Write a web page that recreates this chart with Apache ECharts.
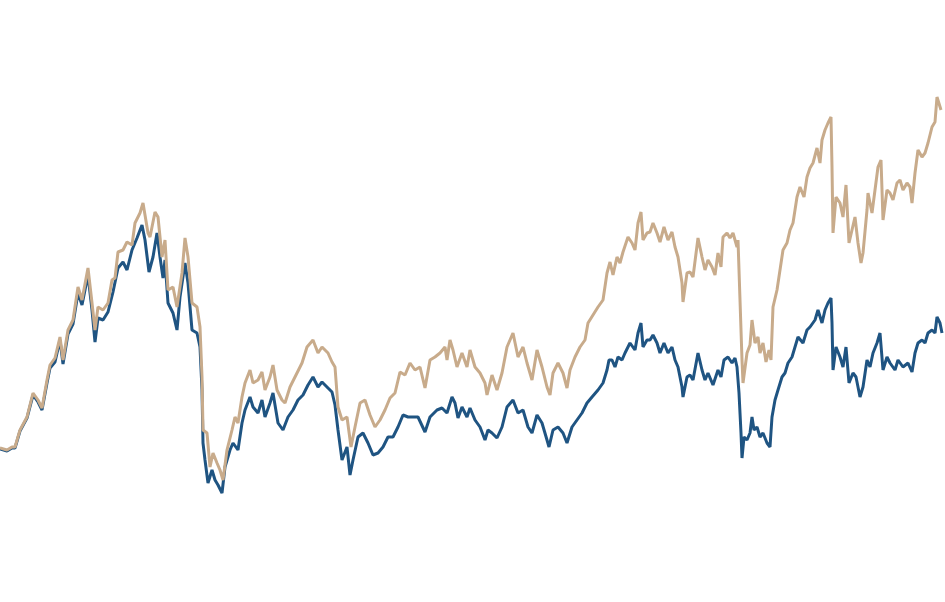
<!DOCTYPE html>
<html>
<head>
<meta charset="utf-8">
<script src="https://cdn.jsdelivr.net/npm/echarts@6/dist/echarts.min.js"></script>
<style>
html,body{margin:0;padding:0;background:#fff;}
#chart{width:945px;height:602px;}
</style>
</head>
<body>
<div id="chart"></div>
<script>
// Blue series: time index and level (level measured downward, axis inverted)
const blueT = [0,7,12,15,20,27,33,38,42,47,50,55,60,63,68,73,78,82,88,92,95,98,103,108,113,118,123,127,132,137,142,145,149,153,157,160,163,165,168,173,177,180,185,188,192,197,200,202,203,205,208,212,215,218,222,225,230,233,238,242,245,250,253,258,262,265,270,273,278,283,288,293,298,303,308,313,318,322,327,332,335,338,342,347,350,353,358,363,368,373,378,383,388,393,398,403,408,413,418,425,430,437,442,447,452,455,458,462,467,470,475,480,485,488,492,497,502,507,513,518,523,528,532,537,542,547,549,553,558,563,567,572,577,582,587,592,598,603,607,609,612,615,618,622,625,630,635,638,641,643,647,650,653,657,660,664,668,672,675,678,682,683,687,690,693,698,702,705,708,713,718,721,724,728,732,735,737,739,741,742,744,747,750,752,754,757,760,763,767,770,772,775,778,782,785,788,792,795,798,803,807,810,815,818,822,825,828,831,832,833,836,840,843,846,849,853,856,860,863,867,870,873,877,880,883,887,890,895,898,903,908,912,915,918,922,925,928,932,935,937,940,942];
const blueV = [449,451,448,448,431,418,395,402,410,383,368,362,340,364,334,324,293,305,275,310,342,318,320,312,292,268,262,270,250,238,225,240,272,257,233,257,278,260,303,313,330,297,263,283,330,333,347,390,443,460,483,470,480,485,493,467,450,443,450,423,410,397,407,413,400,417,403,393,423,430,417,410,400,395,385,377,387,382,387,392,405,430,460,447,475,460,437,433,443,455,453,447,437,437,427,415,417,417,417,432,417,410,408,413,397,403,418,407,417,408,420,427,440,430,433,438,427,407,400,413,410,427,433,415,423,440,447,430,427,433,443,427,420,413,403,397,390,383,370,360,360,367,357,360,353,343,350,333,323,347,340,340,335,343,353,343,353,347,360,367,387,397,377,375,380,353,370,380,373,385,370,377,360,357,363,358,367,393,433,458,437,440,433,417,430,427,437,433,443,447,417,400,390,377,373,363,357,347,337,343,330,327,320,310,323,310,303,298,323,370,347,357,367,347,383,373,377,397,387,360,367,353,343,333,370,357,363,370,360,367,363,372,353,343,340,343,333,330,333,317,323,333];

// Tan series
const tanT = [0,7,12,15,20,27,33,38,42,47,50,55,60,63,68,73,78,82,88,92,95,98,103,108,112,115,118,123,127,132,135,140,143,145,148,150,155,158,162,165,168,173,177,182,185,188,192,197,200,202,203,207,210,213,217,220,223,227,232,235,238,242,245,250,253,258,262,265,270,273,277,282,285,290,297,302,307,313,318,322,328,332,335,338,342,347,351,355,360,365,370,375,380,385,390,395,400,405,410,415,420,425,430,435,440,445,447,450,453,457,462,467,470,475,480,485,487,492,497,502,507,513,518,523,527,532,537,542,547,550,553,558,563,567,570,575,580,585,588,593,598,603,607,610,613,617,620,623,628,632,635,638,641,643,647,650,653,657,660,664,668,672,675,678,682,683,687,690,693,698,702,705,708,712,715,718,721,723,727,730,733,737,738,740,742,743,747,750,752,755,758,760,763,766,769,771,773,777,780,783,787,790,793,797,800,804,807,810,813,817,820,822,825,828,831,832,833,836,840,843,846,849,852,855,858,861,863,867,868,872,875,878,881,883,887,890,893,897,900,903,907,910,912,915,918,922,925,928,932,935,937,938,941];
const tanV = [448,450,447,447,430,417,393,400,408,380,365,358,337,360,330,320,287,300,268,303,330,307,310,303,280,278,252,250,242,245,223,213,203,205,233,237,212,217,257,240,290,287,307,273,238,257,303,307,327,377,430,433,467,453,463,470,480,450,430,417,423,397,383,370,383,380,372,390,377,365,390,400,403,387,373,363,347,340,353,347,353,362,367,407,420,417,447,427,403,400,415,427,420,410,398,393,372,375,363,370,367,388,360,357,353,347,360,340,350,367,353,367,350,367,373,383,395,375,390,373,347,333,357,347,363,380,350,367,387,395,373,363,373,388,370,357,347,340,323,315,307,300,273,262,275,257,263,252,237,243,250,223,212,240,233,232,223,233,242,227,240,232,247,257,283,302,273,272,277,238,257,270,260,267,275,253,267,237,233,238,233,247,240,300,360,383,353,345,320,343,337,353,343,362,350,360,307,290,270,250,243,230,223,197,187,197,177,168,163,148,163,140,130,123,117,167,233,197,203,217,185,243,230,217,243,263,253,210,193,213,190,167,160,220,190,193,200,183,180,190,183,187,203,173,150,157,153,143,127,122,97,98,110];

const zip = (t, v) => t.map((x, i) => [x, v[i]]);

const chart = echarts.init(document.getElementById('chart'), null, {renderer: 'canvas'});
chart.setOption({
  animation: false,
  backgroundColor: '#ffffff',
  grid: {left: 0, right: 0, top: 0, bottom: 0},
  xAxis: {type: 'value', min: 0, max: 945, show: false},
  yAxis: {type: 'value', min: 0, max: 602, inverse: true, show: false},
  series: [
    {
      name: 'Blue', type: 'line', data: zip(blueT, blueV), showSymbol: false,
      lineStyle: {color: '#1f5482', width: 3}, itemStyle: {color: '#1f5482'}, z: 2
    },
    {
      name: 'Tan', type: 'line', data: zip(tanT, tanV), showSymbol: false,
      lineStyle: {color: '#c8ab8b', width: 3}, itemStyle: {color: '#c8ab8b'}, z: 3
    }
  ]
});
</script>
</body>
</html>
